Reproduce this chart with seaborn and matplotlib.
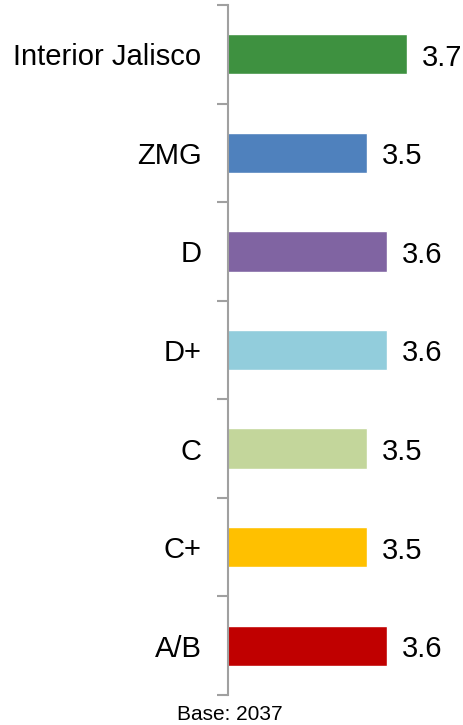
import numpy as np
import pandas as pd
import matplotlib
matplotlib.use('Agg')
import matplotlib.pyplot as plt
import seaborn as sns

# chart data
categories = ['Interior Jalisco', 'ZMG', 'D', 'D+', 'C', 'C+', 'A/B']
values = [3.7, 3.5, 3.6, 3.6, 3.5, 3.5, 3.6]
bar_colors = ['#3E9140', '#4F81BD', '#8064A2', '#92CDDC', '#C3D69B', '#FFC000', '#C00000']
base_note = 'Base: 2037'


def set_style():
    sns.set_theme(style='white')
    plt.rcParams['font.family'] = ['Liberation Sans', 'DejaVu Sans']
    plt.rcParams['text.color'] = 'black'
    plt.rcParams['ytick.color'] = '#A0A0A0'
    plt.rcParams['ytick.labelcolor'] = 'black'


def main():
    set_style()
    df = pd.DataFrame({'segment': categories, 'score': values})

    fig = plt.figure(figsize=(4.64, 7.25), dpi=100)
    ax = fig.add_axes([228 / 464, 1 - 695 / 725, 236 / 464, 690 / 725])

    sns.barplot(data=df, x='score', y='segment', hue='segment', palette=bar_colors,
                order=categories, hue_order=categories, legend=False,
                width=0.41, saturation=1, ax=ax, orient='h')

    for cont in ax.containers:
        labels = ax.bar_label(cont, fmt='%.1f', padding=11, fontsize=21, color='black')
        for t in labels:
            # nudge digits down a little so they sit centred on the bar
            t.xyann = (11, -2.5)

    ax.set_xlim(2.807, 3.987)
    ax.set_ylim(len(categories) - 0.5, -0.5)
    ax.set_xlabel('')
    ax.set_ylabel('')
    ax.set_xticks([])

    # category labels on major ticks (no marks), separators on minor ticks
    ax.set_yticks(np.arange(len(categories)))
    ax.set_yticklabels(categories, fontsize=21)
    ax.set_yticks(np.arange(len(categories) + 1) - 0.5, minor=True)
    ax.tick_params(axis='y', which='major', left=True, length=0, pad=19)
    ax.tick_params(axis='y', which='minor', left=True, length=8, width=1.5,
                   color='#A0A0A0', direction='out')

    for side in ['top', 'right', 'bottom']:
        ax.spines[side].set_visible(False)
    ax.spines['left'].set_color('#A0A0A0')
    ax.spines['left'].set_linewidth(1.5)

    fig.text(230 / 464, 1 - 715 / 725, base_note, ha='center', va='center', fontsize=15)

    fig.savefig('out.png', dpi=100)
    plt.close(fig)


if __name__ == '__main__':
    main()
